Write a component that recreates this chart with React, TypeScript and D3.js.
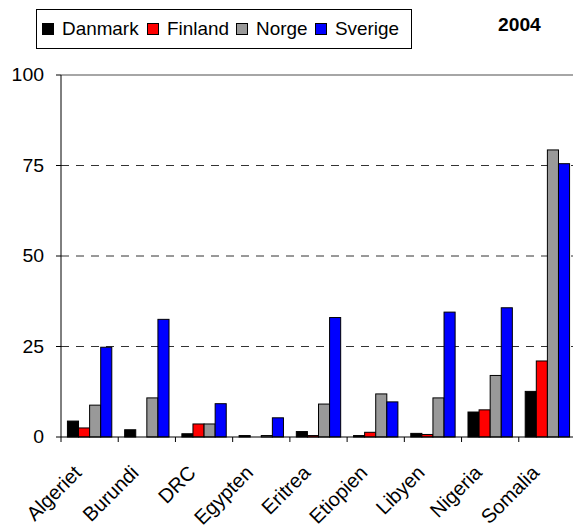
import React from "react";
import * as d3 from "d3";

const categories = ["Algeriet", "Burundi", "DRC", "Egypten", "Eritrea", "Etiopien", "Libyen", "Nigeria", "Somalia"];
const seriesNames = ["Danmark", "Finland", "Norge", "Sverige"];
const seriesColors = ["#000000", "#ff0000", "#999999", "#0000ff"];
const danmark = [4.4, 2.0, 0.9, 0.4, 1.5, 0.4, 1.0, 6.9, 12.6];
const finland = [2.5, 0, 3.6, 0, 0.4, 1.3, 0.7, 7.5, 21.0];
const norge = [8.8, 10.8, 3.6, 0.4, 9.1, 11.9, 10.8, 17.0, 79.3];
const sverige = [24.8, 32.5, 9.2, 5.3, 33.0, 9.7, 34.5, 35.7, 75.5];
const yTicks = [0, 25, 50, 75, 100];
const title = "2004";

const seriesValues = [danmark, finland, norge, sverige];

export default function App() {
  const left = 61, right = 576, top = 75, bottom = 437;
  const x = d3.scaleBand<string>().domain(categories).range([left, right]).padding(0);
  const xi = d3.scaleBand<number>().domain([0, 1, 2, 3]).range([0, x.bandwidth()]).paddingInner(0).paddingOuter(0.58);
  const y = d3.scaleLinear().domain([0, 100]).range([bottom, top]);
  const font = "Liberation Sans, Arial, sans-serif";

  const legendItems = [
    { sx: 42, tx: 62 },
    { sx: 147, tx: 167 },
    { sx: 236, tx: 256 },
    { sx: 315, tx: 335 },
  ];

  return (
    <svg width={573} height={528} style={{ position: "absolute", left: 0, top: 0 }}>
      <rect x={0} y={0} width={573} height={528} fill="#fff" />
      {/* grid */}
      {yTicks.filter((t) => t > 0 && t < 100).map((t) => (
        <line key={t} x1={left} x2={right} y1={y(t)} y2={y(t)} stroke="#333" strokeWidth={1} strokeDasharray="8,7" />
      ))}
      <line x1={left} x2={right} y1={y(100)} y2={y(100)} stroke="#888" strokeWidth={1.5} />
      {/* bars */}
      {categories.map((c, i) => (
        <g key={c}>
          {seriesValues.map((vals, s) => {
            const v = vals[i];
            if (v <= 0) return null;
            return (
              <rect
                key={s}
                x={(x(c) as number) + (xi(s) as number)}
                y={y(v)}
                width={xi.bandwidth()}
                height={bottom - y(v)}
                fill={seriesColors[s]}
                stroke="#000"
                strokeWidth={1}
              />
            );
          })}
        </g>
      ))}
      {/* axes */}
      <line x1={left} x2={left} y1={top} y2={bottom} stroke="#000" strokeWidth={1} />
      <line x1={left} x2={right} y1={bottom} y2={bottom} stroke="#000" strokeWidth={1} />
      {yTicks.map((t) => (
        <g key={t}>
          <line x1={left - 5} x2={left} y1={y(t)} y2={y(t)} stroke="#000" />
          <text
            transform={`translate(44, ${y(t)}) scale(1.08, 1)`}
            dy="0.36em"
            textAnchor="end"
            fontFamily={font}
            fontSize={18}
          >
            {t}
          </text>
        </g>
      ))}
      {categories.concat(["__end"]).map((c, i) => {
        const xx = left + i * x.step();
        return <line key={c} x1={xx} x2={xx} y1={bottom} y2={bottom + 5} stroke="#000" />;
      })}
      {categories.map((c) => {
        const cx = (x(c) as number) + x.bandwidth() / 2 - 7;
        const cy = bottom + 37;
        return (
          <text
            key={c}
            textAnchor="end"
            fontFamily={font}
            fontSize={20}
            transform={`translate(${cx}, ${cy}) rotate(-45)`}
          >
            {c}
          </text>
        );
      })}
      {/* legend */}
      <rect x={36.5} y={9.5} width={375} height={39} fill="#fff" stroke="#000" strokeWidth={1} />
      {seriesNames.map((n, s) => (
        <g key={n}>
          <rect x={legendItems[s].sx + 0.5} y={23.5} width={11} height={11} fill={seriesColors[s]} stroke="#000" />
          <text transform={`translate(${legendItems[s].tx}, 35) scale(1.05, 1)`} fontFamily={font} fontSize={18}>
            {n}
          </text>
        </g>
      ))}
      <text transform="translate(498, 31) scale(1.1, 1)" fontFamily={font} fontSize={17.5} fontWeight="bold">
        {title}
      </text>
    </svg>
  );
}
